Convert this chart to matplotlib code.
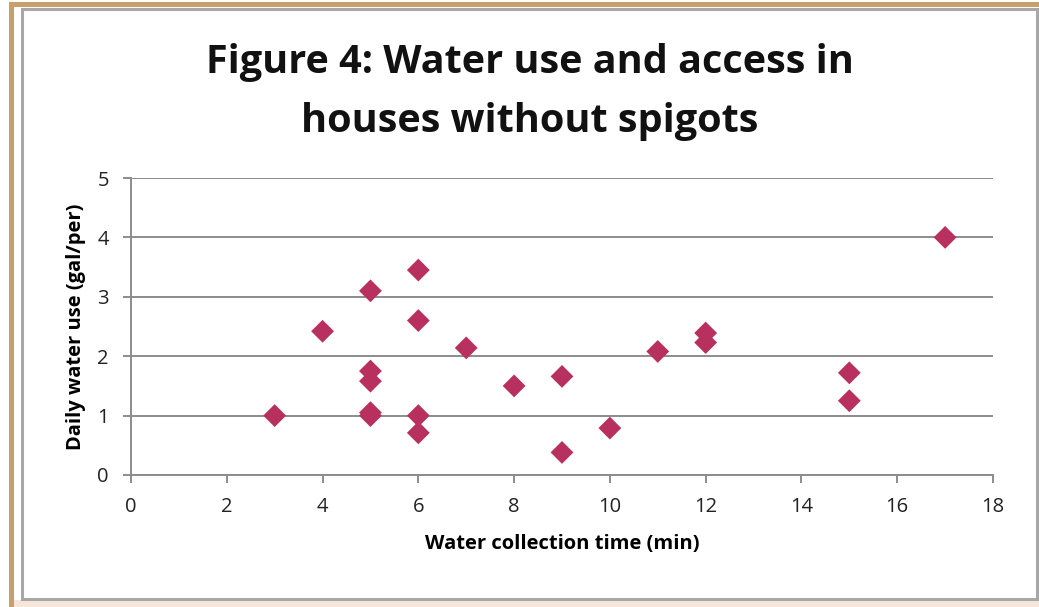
import matplotlib.pyplot as plt
from matplotlib.patches import Rectangle

# collection time (min) vs daily use (gal per person)
collection_time = [3, 4, 5, 5, 5, 5, 5, 6, 6, 6, 6, 7, 8, 9, 9, 10, 11, 12, 12, 15, 15, 17]
daily_use = [1.0, 2.42, 3.1, 1.75, 1.58, 1.05, 1.0, 3.45, 2.6, 1.0, 0.71,
             2.14, 1.5, 1.66, 0.38, 0.79, 2.08, 2.39, 2.23, 1.72, 1.25, 4.0]
x_ticks = list(range(0, 19, 2))
y_ticks = [0, 1, 2, 3, 4, 5]
title_lines = ['Figure 4: Water use and access in', 'houses without spigots']

W, H = 1039, 607
fig = plt.figure(figsize=(W / 100, H / 100), dpi=100)
fig.patch.set_facecolor('white')

# tan frame on top/left edges and grey chart-area border (pixel coords)
def px_rect(x0, y0, x1, y1, **kw):
    fig.add_artist(Rectangle((x0 / W, 1 - y1 / H), (x1 - x0) / W, (y1 - y0) / H,
                             transform=fig.transFigure, **kw))

tan = '#c8a06c'
px_rect(9, 2, W, 7, facecolor=tan, edgecolor='none')
px_rect(9, 2, 14, H, facecolor=tan, edgecolor='none')
px_rect(14, 600, W, H, facecolor='#f6e6da', edgecolor='none')
px_rect(22, 9, 1037, 599, facecolor='none', edgecolor='#a8a8a8', linewidth=2.2)

ax = fig.add_axes([131 / W, 1 - 475 / H, (993 - 131) / W, (475 - 178) / H])
ax.scatter(collection_time, daily_use, marker='D', s=135, color='#b8305e',
           edgecolors='none', zorder=3)

ax.set_xlim(0, 18)
ax.set_ylim(0, 5)
ax.set_xticks(x_ticks)
ax.set_yticks(y_ticks)
ax.yaxis.grid(True, color='#8c8c8c', linewidth=1.4)
ax.set_axisbelow(True)
for side in ['top', 'right']:
    ax.spines[side].set_visible(False)
for side in ['left', 'bottom']:
    ax.spines[side].set_color('#8c8c8c')
    ax.spines[side].set_linewidth(1.4)
ax.tick_params(axis='both', colors='#8c8c8c', length=6, width=1.4,
               labelcolor='#222222', labelsize=14.5)
ax.tick_params(axis='x', pad=10)
ax.tick_params(axis='y', pad=10)
for lab in ax.get_xticklabels() + ax.get_yticklabels():
    lab.set_family('Open Sans')

ax.set_xlabel('Water collection time (min)', fontsize=14.5, fontweight='bold',
              family='Open Sans', labelpad=12)
ax.set_ylabel('Daily water use (gal/per)', fontsize=14.5, fontweight='bold',
              family='Open Sans', labelpad=8)

for line, base in zip(title_lines, [73, 132]):
    fig.text(530 / W, 1 - base / H, line, ha='center', va='baseline',
             fontsize=28.5, fontweight='bold', family='Open Sans', color='#111111')

fig.savefig('out.png', dpi=100)
